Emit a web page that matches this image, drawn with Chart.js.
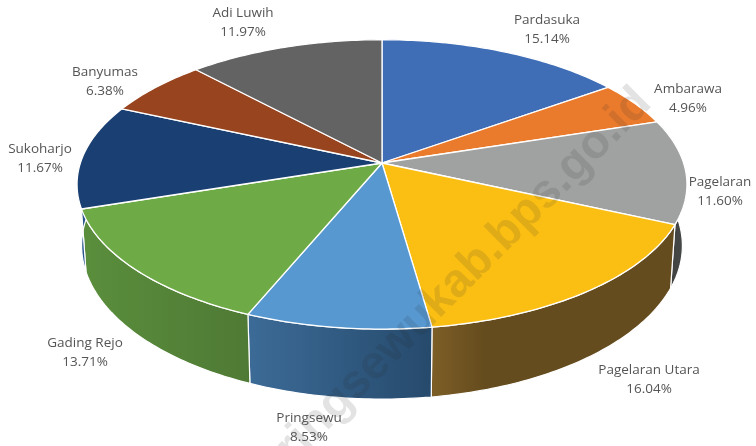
<!DOCTYPE html>
<html><head><meta charset="utf-8">
<style>html,body{margin:0;padding:0;background:#fff}canvas{display:block}</style>
<script src="https://cdn.jsdelivr.net/npm/chart.js@4"></script></head>
<body><canvas id="c" width="756" height="446"></canvas>
<script>
const categories = ["Pardasuka","Ambarawa","Pagelaran","Pagelaran Utara","Pringsewu","Gading Rejo","Sukoharjo","Banyumas","Adi Luwih"];
const shares = [15.14,4.96,11.60,16.04,8.53,13.71,11.67,6.38,11.97];
const topColors = ["#3f6eb6","#ea7b2d","#a0a2a1","#fbbf14","#5798d1","#6eab46","#1a3f72","#98451f","#636363"];
const wallColors = [["#345b96","#345b96"],["#b05c22","#b05c22"],["#3a3b3b","#474848"],["#7d5e26","#654c1e"],["#3c6b97","#264a6c"],["#5a8e3c","#4f7a35"],["#2a5a94","#1d3f6e"],["#70331a","#70331a"],["#484848","#484848"]];
const labelPlaces = [[547,20],[688,89],[720,182],[649,370],[309,418],[85,343],[40,149],[105,72],[243,13]];

const LOOK = {k:-0.148, sx:2.08, sy:0.8096, pivot:-22, wallDrop:60, wallY:1.06, wallX:0.985};
function project(el,a,r){
  const R=el.outerRadius, u=r*Math.cos(a), v=r*Math.sin(a), d=1+LOOK.k*v;
  return [el.x+LOOK.sx*R*u/d, (el.y+LOOK.pivot+LOOK.sy*R*v)/d];
}
function lower(el,p){
  const py=el.y+LOOK.pivot;
  return [el.x+(p[0]-el.x)*LOOK.wallX, py+LOOK.wallDrop+(p[1]-py)*LOOK.wallY];
}
function rim(el){
  const pts=[], n=Math.max(8,Math.ceil((el.endAngle-el.startAngle)*60));
  for(let i=0;i<=n;i++) pts.push(project(el,el.startAngle+(el.endAngle-el.startAngle)*i/n,1));
  return pts;
}
const pie3d={
  id:'pie3d',
  beforeDatasetsDraw(chart){
    const ctx=chart.ctx, arcs=chart.getDatasetMeta(0).data;
    arcs.forEach((el,i)=>{
      const top=rim(el), low=top.map(p=>lower(el,p));
      const xs=top.concat(low).map(p=>p[0]);
      const x0=Math.min(...xs), x1=Math.max(...xs);
      const g=ctx.createLinearGradient(x0,0,Math.max(x1,x0+1),0);
      g.addColorStop(0,wallColors[i][0]);
      g.addColorStop(i===3?0.22:1,wallColors[i][1]);
      if(i===3) g.addColorStop(1,wallColors[i][1]);
      ctx.beginPath();
      top.forEach((p,j)=>j?ctx.lineTo(p[0],p[1]):ctx.moveTo(p[0],p[1]));
      low.reverse().forEach(p=>ctx.lineTo(p[0],p[1]));
      ctx.closePath();
      ctx.fillStyle=g; ctx.fill();
      ctx.strokeStyle='#fff'; ctx.lineWidth=1.2; ctx.stroke();
    });
    arcs.forEach((el,i)=>{
      const top=rim(el), o=project(el,0,0);
      ctx.beginPath(); ctx.moveTo(o[0],o[1]);
      top.forEach(p=>ctx.lineTo(p[0],p[1]));
      ctx.closePath();
      ctx.fillStyle=topColors[i]; ctx.fill();
      ctx.strokeStyle='#fff'; ctx.lineWidth=1.3; ctx.lineJoin='round'; ctx.stroke();
    });
    return false;
  },
  afterDraw(chart){
    const ctx=chart.ctx;
    ctx.save();
    ctx.translate(653,105); ctx.rotate(-45*Math.PI/180);
    ctx.font='bold 47px "Liberation Sans"'; ctx.textAlign='right'; ctx.textBaseline='alphabetic';
    ctx.fillStyle='rgba(40,40,40,0.13)';
    ctx.fillText('pringsewukab.bps.go.id',0,0);
    ctx.restore();
    ctx.save();
    ctx.font='13.5px "Open Sans"'; ctx.textAlign='center'; ctx.textBaseline='middle'; ctx.fillStyle='#555';
    categories.forEach((name,i)=>{
      const [x,y]=labelPlaces[i];
      ctx.fillText(name,x,y);
      ctx.fillText(shares[i].toFixed(2)+'%',x,y+19.5);
    });
    ctx.restore();
  }
};
new Chart(document.getElementById('c'),{
  type:'pie',
  data:{labels:categories,datasets:[{data:shares,backgroundColor:topColors,borderColor:'#fff'}]},
  options:{responsive:false,animation:false,
    layout:{padding:{top:39,bottom:115,left:8,right:0}},
    plugins:{legend:{display:false},tooltip:{enabled:false},title:{display:false}}},
  plugins:[pie3d]
});
</script></body></html>
